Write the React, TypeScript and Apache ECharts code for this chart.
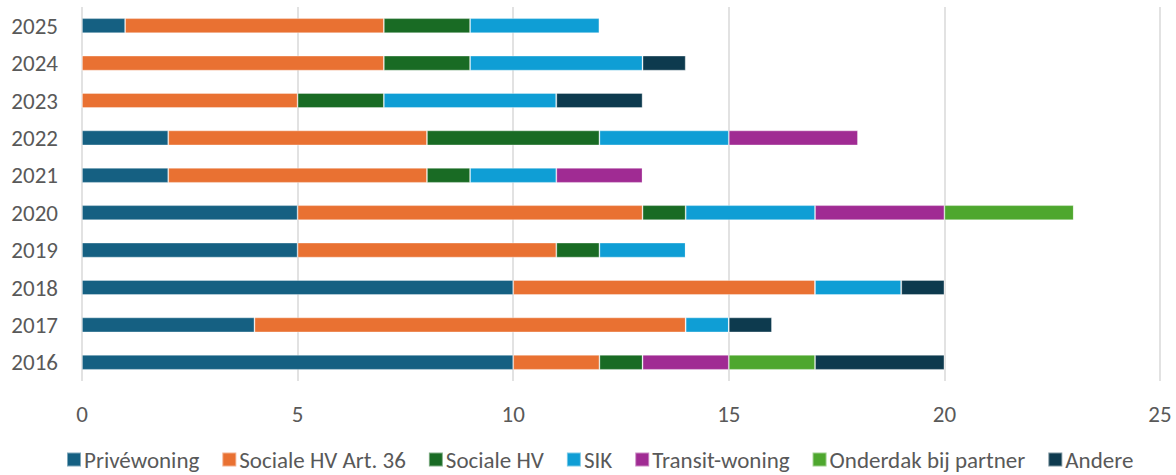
import React, { useEffect, useRef } from "react";
import * as echarts from "echarts";

const years = ["2016", "2017", "2018", "2019", "2020", "2021", "2022", "2023", "2024", "2025"];
const seriesNames = ["Privéwoning", "Sociale HV Art. 36", "Sociale HV", "SIK", "Transit-woning", "Onderdak bij partner", "Andere"];
const priveWoning = [10, 4, 10, 5, 5, 2, 2, 0, 0, 1];
const socialeArt36 = [2, 10, 7, 6, 8, 6, 6, 5, 7, 6];
const socialeHV = [1, 0, 0, 1, 1, 1, 4, 2, 2, 2];
const sik = [0, 1, 2, 2, 3, 2, 3, 4, 4, 3];
const transitWoning = [2, 0, 0, 0, 3, 2, 3, 0, 0, 0];
const onderdak = [2, 0, 0, 0, 3, 0, 0, 0, 0, 0];
const andere = [3, 1, 1, 0, 0, 0, 0, 2, 1, 0];
const xTicks = [0, 5, 10, 15, 20, 25];

const colors = ["#156082", "#E97132", "#196B24", "#0F9ED5", "#A02B93", "#4EA72E", "#0D3A4E"];
const allData = [priveWoning, socialeArt36, socialeHV, sik, transitWoning, onderdak, andere];

export default function App() {
  const ref = useRef<HTMLDivElement>(null);
  useEffect(() => {
    if (!ref.current) return;
    const chart = echarts.init(ref.current, undefined, { renderer: "svg" });
    const font = "Carlito, 'Liberation Sans', Arial, sans-serif";
    chart.setOption({
      animation: false,
      textStyle: { fontFamily: font },
      grid: { left: 82, right: 16, top: 7, bottom: 94, containLabel: false },
      xAxis: {
        type: "value",
        min: xTicks[0],
        max: xTicks[xTicks.length - 1],
        interval: 5,
        axisLine: { show: false },
        axisTick: { show: false },
        splitLine: { show: true, lineStyle: { color: "#d9d9d9", width: 1.5 } },
        axisLabel: { color: "#595959", fontSize: 23, margin: 21, fontFamily: font },
      },
      yAxis: {
        type: "category",
        data: years,
        axisLine: { show: false },
        axisTick: { show: false },
        axisLabel: { color: "#595959", fontSize: 23, margin: 24, fontFamily: font },
      },
      legend: {
        top: 448,
        left: 66,
        itemWidth: 14,
        itemHeight: 14,
        itemGap: 22,
        icon: "rect",
        padding: 0,
        textStyle: { color: "#595959", fontSize: 23, fontFamily: font, padding: [0, 0, 0, -2] },
        data: seriesNames,
      },
      series: seriesNames.map((name, i) => ({
        name,
        type: "bar",
        stack: "total",
        barWidth: 15,
        data: allData[i],
        itemStyle: { color: colors[i], borderColor: "rgba(255,255,255,0.45)", borderWidth: 0.8 },
      })),
    });
    return () => chart.dispose();
  }, []);
  return <div ref={ref} style={{ width: 1176, height: 475, position: "absolute", left: 0, top: 0 }} />;
}
